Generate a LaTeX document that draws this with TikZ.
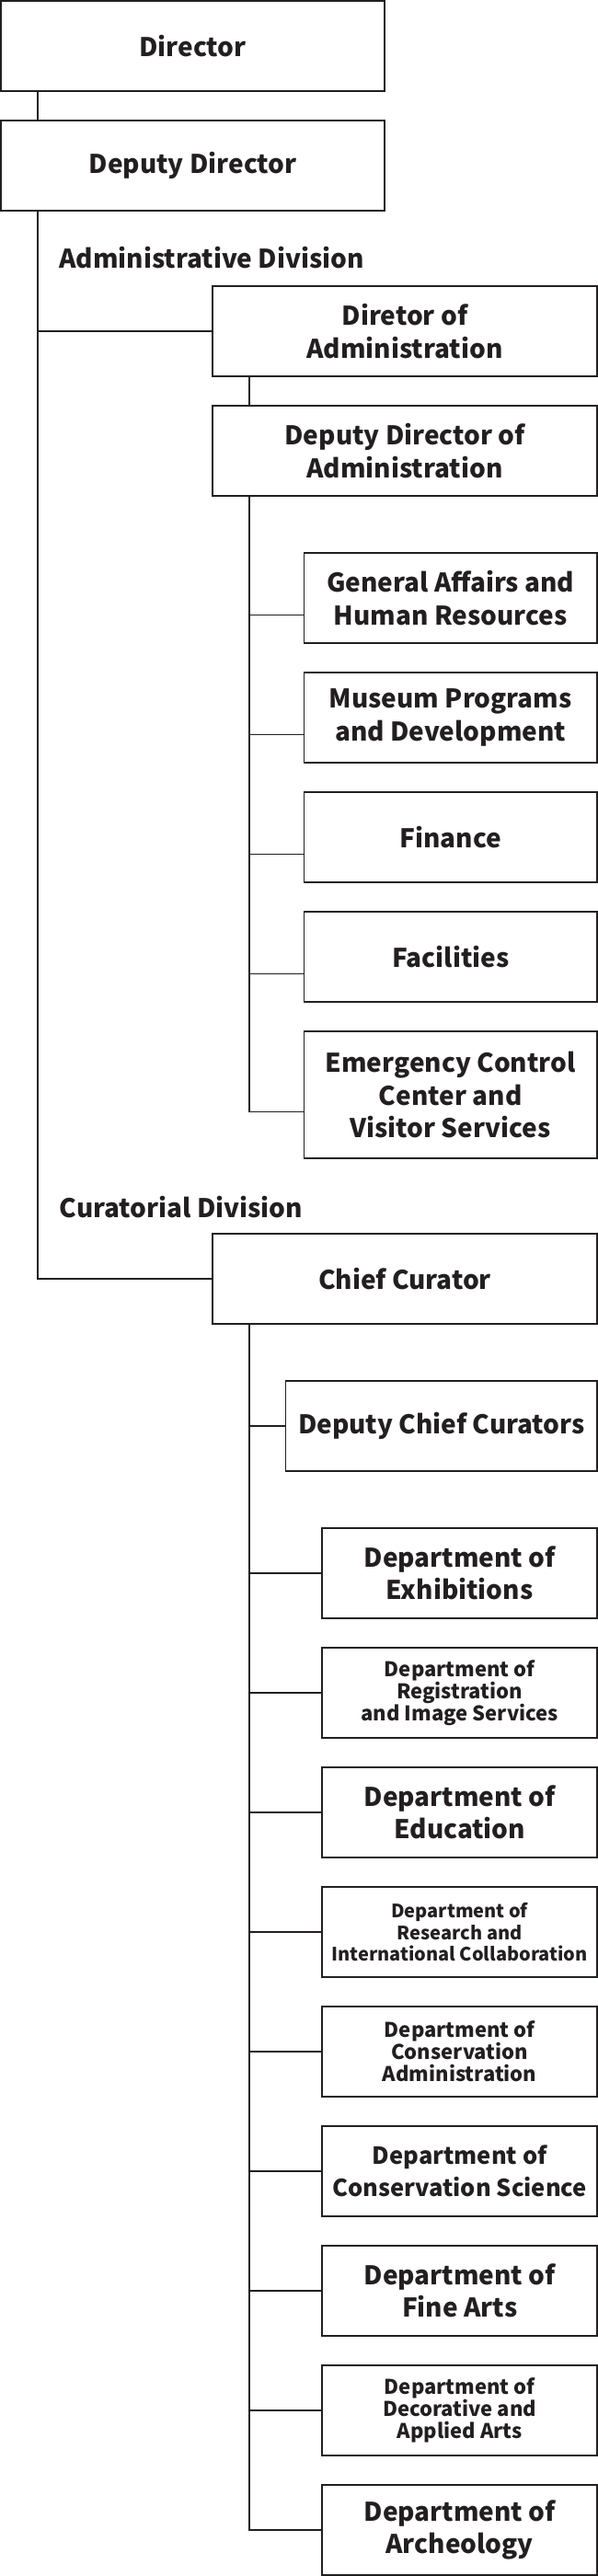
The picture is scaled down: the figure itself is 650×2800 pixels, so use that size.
\documentclass[tikz,border=0pt]{standalone}
\usepackage{fontspec}
\setmainfont{Noto Sans CJK KR}
\usetikzlibrary{positioning}
\definecolor{ink}{HTML}{231F20}

\begin{document}
\begin{tikzpicture}[x=1pt, y=1pt,
  node distance=30.2pt,
  orgbox/.style={draw=ink, line width=1.8pt, text=ink, inner sep=0pt,
                 align=center, font=\bfseries\fontsize{28}{35.5}\selectfont},
  headbox/.style={orgbox, minimum width=417pt, minimum height=98pt},
  unitbox/.style={orgbox, minimum width=418pt, minimum height=98pt},
  subbox/.style={orgbox, minimum width=318.6pt, minimum height=98pt},
  deptbox/.style={orgbox, minimum width=298.7pt, minimum height=98pt},
  smalltext/.style={font=\bfseries\fontsize{22}{24}\selectfont},
  division/.style={text=ink, inner sep=0pt, anchor=base west,
                   font=\bfseries\fontsize{28}{35.5}\selectfont},
  link/.style={draw=ink, line width=1.8pt}
]
\useasboundingbox (0,0) rectangle (650,-2800);

% top
\node[headbox, anchor=north west] (dir) at (0.1,-0.1) {Director};
\node[headbox, below=of dir] (dep) {Deputy Director};

% administrative division
\node[division] (adm) at (64,-291.7) {Administrative Division};
\node[unitbox, anchor=north west] (doa) at (230.1,-310.1) {Diretor of\\Administration};
\node[unitbox, below=of doa] (ddoa) {Deputy Director of\\Administration};
\node[subbox, below=60.2pt of ddoa.south east, anchor=north east] (gen) {General Affairs and\\Human Resources};
\node[subbox, below=of gen] (mus) {Museum Programs\\and Development};
\node[subbox, below=of mus] (fin) {Finance};
\node[subbox, below=of fin] (fac) {Facilities};
\node[subbox, below=of fac, minimum height=138pt] (emg) {Emergency Control\\Center and\\Visitor Services};

% curatorial division
\node[division] (cur) at (64.5,-1323.3) {Curatorial Division};
\node[unitbox, anchor=north west] (cc) at (230.1,-1340.1) {Chief Curator};
\node[orgbox, minimum width=338.5pt, minimum height=98pt,
      below=60.2pt of cc.south east, anchor=north east] (dcc) {Deputy Chief Curators};
\node[deptbox, below=60.2pt of dcc.south east, anchor=north east] (exh) {Department of\\Exhibitions};
\node[deptbox, smalltext, below=of exh] (reg) {Department of\\Registration\\and Image Services};
\node[deptbox, below=of reg] (edu) {Department of\\Education};
\node[deptbox, below=of edu, font=\bfseries\fontsize{20}{23.7}\selectfont] (res) {Department of\\Research and\\International Collaboration};
\node[deptbox, smalltext, below=of res] (cad) {Department of\\Conservation\\Administration};
\node[deptbox, below=of cad, font=\bfseries\fontsize{25.5}{35}\selectfont] (csc) {Department of\\Conservation Science};
\node[deptbox, below=of csc] (fine) {Department of\\Fine Arts};
\node[deptbox, smalltext, below=of fine] (deco) {Department of\\Decorative and\\Applied Arts};
\node[deptbox, below=of deco] (arch) {Department of\\Archeology};

% connectors
\draw[link] ([xshift=40.5pt]dir.south west) -- ([xshift=40.5pt]dep.north west);
\coordinate (spine) at ([xshift=40.5pt]dep.south west);
\draw[link] (spine) |- (doa.west);
\draw[link] (spine) |- (cc.west);
\draw[link] ([xshift=40.6pt]doa.south west) -- ([xshift=40.6pt]ddoa.north west);
\coordinate (aspine) at ([xshift=40.6pt]ddoa.south west);
\foreach \n in {gen,mus,fin,fac,emg}
  \draw[link] (aspine) |- ([yshift=-18.5pt]\n.west);
\coordinate (cspine) at ([xshift=40.6pt]cc.south west);
\foreach \n in {dcc,exh,reg,edu,res,cad,csc,fine,deco,arch}
  \draw[link] (cspine) |- (\n.west);
\end{tikzpicture}
\end{document}
